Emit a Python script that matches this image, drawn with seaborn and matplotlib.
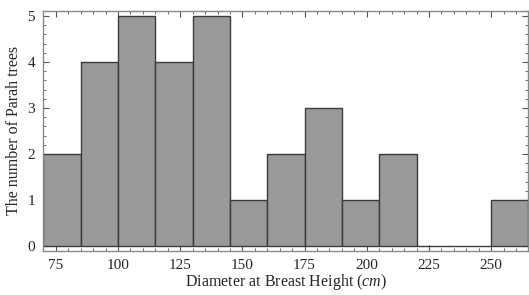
import numpy as np
import seaborn as sns
import matplotlib.pyplot as plt
from matplotlib.ticker import MultipleLocator

# DBH classes (cm) and tree counts per class
bin_edges = [70, 85, 100, 115, 130, 145, 160, 175, 190, 205, 220, 235, 250, 265]
counts = [2, 4, 5, 4, 5, 1, 2, 3, 1, 2, 0, 0, 1]
x_ticks = [75, 100, 125, 150, 175, 200, 225, 250]
y_ticks = [0, 1, 2, 3, 4, 5]

sns.set_style("ticks")
plt.rcParams['font.family'] = ['Liberation Serif', 'DejaVu Serif']
plt.rcParams['mathtext.fontset'] = 'custom'
plt.rcParams['mathtext.it'] = 'Liberation Serif:italic'
plt.rcParams['mathtext.rm'] = 'Liberation Serif'

fig = plt.figure(figsize=(5.29, 2.95), dpi=100)
ax = fig.add_axes([0.082, 0.15, 0.917, 0.813])

sns.histplot(x=bin_edges[:-1], weights=counts, bins=bin_edges, ax=ax,
             color='#9a9a9a', edgecolor='#3a3a3a', linewidth=1.0, alpha=1.0)

ax.set_xlim(70, 265)
ax.set_ylim(-0.1, 5.11)
ax.set_xticks(x_ticks)
ax.set_yticks(y_ticks)
ax.xaxis.set_minor_locator(MultipleLocator(5))
ax.yaxis.set_minor_locator(MultipleLocator(0.2))
ax.tick_params(which='both', direction='in', top=True, right=True,
               color='#555555', labelsize=11)
ax.tick_params(axis='x', pad=6)
ax.tick_params(axis='y', pad=6)
ax.tick_params(which='major', length=4)
ax.tick_params(which='minor', length=2)
for s in ax.spines.values():
    s.set_color('#888888')
    s.set_linewidth(1.0)

ax.set_xlabel('Diameter at Breast Height ($cm$)', fontsize=11.5, labelpad=0)
ax.set_ylabel('The number of Parah trees', fontsize=11.5, labelpad=4)

plt.savefig('out.png', dpi=100)
